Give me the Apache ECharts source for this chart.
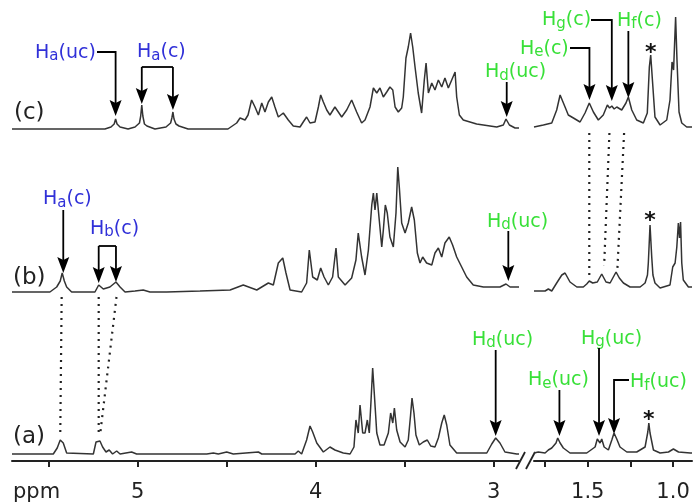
<!DOCTYPE html>
<html>
<head>
<meta charset="utf-8">
<script src="https://cdn.jsdelivr.net/npm/echarts@6/dist/echarts.min.js"></script>
<style>
  html, body { margin: 0; padding: 0; background: #fff; }
  #chart { width: 694px; height: 504px; }
</style>
</head>
<body>
<div id="chart"></div>
<script>
// 축 눈금 (ppm)
var leftTicks = [5.5, 5, 4.5, 4, 3.5, 3];
var leftLabels = [5, 4, 3];
var rightTicks = [1.75, 1.5, 1.25, 1.0];
var rightLabels = [1.5, 1.0];

// 스펙트럼 (c) : [ppm, intensity]
var cLeft = [[5.706,0],[5.184,0],[5.150,2],[5.132,5],[5.124,10],[5.116,5],[5.099,2],[5.054,0],[5.015,2],[4.990,6],[4.983,13],[4.977,24],[4.971,13],[4.962,5],[4.948,3],[4.903,0],[4.841,2],[4.815,6],[4.808,11],[4.802,17],[4.796,10],[4.785,5],[4.768,3],[4.717,0],[4.493,0],
  [4.444,6],[4.425,11],[4.397,9],[4.380,14],[4.360,29],[4.341,22],[4.322,14],[4.303,26],[4.285,17],[4.266,27],[4.247,32],[4.229,22],[4.210,12],[4.182,16],[4.154,9],[4.126,3],[4.088,2],[4.070,7],[4.051,12],[4.032,6],[4.004,7],
  [3.985,22],[3.972,34],[3.957,27],[3.938,19],[3.920,14],[3.892,22],[3.873,17],[3.854,12],[3.826,19],[3.798,29],[3.770,17],[3.742,6],[3.723,9],[3.695,22],[3.676,41],[3.657,36],[3.639,41],[3.620,32],[3.601,37],[3.583,42],[3.567,39],[3.554,22],[3.536,17],[3.517,21],[3.508,32],
  [3.493,71],[3.480,82],[3.467,96],[3.455,82],[3.442,62],[3.424,36],[3.405,16],[3.390,49],[3.380,66],[3.367,36],[3.348,46],[3.330,39],[3.311,49],[3.292,42],[3.274,51],[3.255,41],[3.236,49],[3.217,57],[3.208,32],[3.193,14],[3.171,9],[3.096,5],[2.983,2],[2.946,4],[2.931,10],[2.912,4],[2.880,1],[2.858,1]];
var cRight = [[1.815,0],[1.760,2],[1.711,4],[1.682,17],[1.662,32],[1.652,30],[1.633,20],[1.614,12],[1.584,9],[1.545,5],[1.516,14],[1.491,24],[1.467,15],[1.438,7],[1.409,12],[1.385,22],[1.372,19],[1.359,21],[1.345,18],[1.330,20],[1.301,17],[1.276,24],[1.262,30],[1.242,17],[1.213,7],[1.174,4],
  [1.151,14],[1.139,60],[1.131,72],[1.121,47],[1.106,10],[1.076,2],[1.037,7],[1.018,27],[1.006,65],[0.997,57],[0.985,110],[0.977,67],[0.965,15],[0.949,4],[0.920,0],[0.889,0]];

// 스펙트럼 (b)
var bLeft = [[5.706,0],[5.493,0],[5.455,5],[5.435,11],[5.424,19],[5.412,11],[5.399,5],[5.371,0],[5.240,0],[5.219,7],[5.193,3],[5.156,5],[5.122,10],[5.099,5],[5.071,0],[5.015,1],[4.969,2],[4.931,0],[4.837,0],[4.650,1],[4.481,2],[4.407,7],[4.331,2],[4.266,9],[4.238,7],[4.210,29],[4.185,34],[4.167,19],[4.144,2],[4.079,0],
  [4.051,9],[4.036,42],[4.017,15],[3.991,12],[3.972,24],[3.953,15],[3.929,7],[3.905,15],[3.886,44],[3.873,15],[3.835,7],[3.798,14],[3.774,32],[3.761,59],[3.742,35],[3.723,17],[3.704,42],[3.685,87],[3.676,99],[3.667,82],[3.657,99],[3.643,72],[3.629,45],[3.620,62],[3.609,87],[3.598,79],[3.583,55],[3.564,45],
  [3.549,79],[3.539,125],[3.530,104],[3.517,69],[3.498,59],[3.480,69],[3.461,85],[3.446,72],[3.429,39],[3.414,29],[3.399,35],[3.377,29],[3.348,27],[3.330,39],[3.311,44],[3.292,35],[3.274,49],[3.250,55],[3.231,47],[3.208,35],[3.180,25],[3.152,15],[3.115,7],[3.058,5],[2.965,5],[2.931,8],[2.908,5],[2.858,5]];
var bRight = [[1.815,0],[1.750,0],[1.731,2],[1.711,0],[1.682,8],[1.652,16],[1.633,18],[1.623,16],[1.604,9],[1.564,4],[1.526,4],[1.506,7],[1.491,10],[1.471,8],[1.444,9],[1.418,17],[1.393,9],[1.369,8],[1.350,14],[1.334,19],[1.315,13],[1.291,8],[1.252,4],[1.193,4],
  [1.164,8],[1.150,16],[1.145,28],[1.135,66],[1.125,34],[1.118,16],[1.106,8],[1.076,3],[1.018,6],[1.002,24],[0.988,28],[0.978,44],[0.969,68],[0.962,53],[0.956,69],[0.949,28],[0.940,11],[0.910,4],[0.889,4]];

// 스펙트럼 (a)
var aLeft = [[5.706,0],[5.474,0],[5.452,6],[5.435,14],[5.418,11],[5.399,1],[5.249,0],[5.234,12],[5.212,13],[5.197,7],[5.178,2],[5.160,4],[5.141,0],[5.118,3],[5.099,0],[5.034,2],[5.006,0],[4.612,0],[4.575,1],[4.547,0],[4.500,2],[4.463,0],[4.322,2],[4.303,0],[4.116,0],[4.098,3],[4.079,0],
  [4.051,14],[4.032,28],[4.017,22],[3.994,11],[3.957,2],[3.920,7],[3.892,4],[3.845,1],[3.807,0],[3.785,7],[3.774,34],[3.761,21],[3.751,49],[3.736,21],[3.723,21],[3.710,34],[3.699,21],[3.689,54],[3.680,86],[3.671,61],[3.657,21],[3.639,9],[3.616,9],[3.592,21],[3.579,41],[3.567,31],[3.558,46],[3.545,24],[3.526,12],
  [3.498,7],[3.480,14],[3.467,39],[3.459,56],[3.448,41],[3.437,19],[3.418,9],[3.396,12],[3.373,14],[3.354,8],[3.330,7],[3.311,16],[3.292,31],[3.278,39],[3.264,29],[3.246,9],[3.208,1],[3.039,1],[3.011,10],[2.989,16],[2.965,11],[2.937,2],[2.871,0],[2.858,0]];
var aRight = [[1.815,0],[1.790,1],[1.750,0],[1.731,3],[1.711,5],[1.686,10],[1.676,15],[1.662,10],[1.643,5],[1.604,0],[1.506,0],[1.457,6],[1.444,14],[1.428,10],[1.418,14],[1.404,6],[1.379,3],[1.359,13],[1.346,20],[1.330,14],[1.311,6],[1.271,1],[1.213,1],[1.164,6],[1.148,21],[1.142,30],[1.135,20],[1.115,3],[1.076,0],[1.027,1],[0.998,4],[0.968,1],[0.899,0],[0.889,0]];

// 스펙트럼 세로 오프셋 (a, b, c)
var offsetLeft = [7, 169, 332];
var offsetRight = [8, 170, 334];

var FONT = 'DejaVu Sans';
var BLUE = '#3030d8';
var GREEN = '#38e038';
var INK = '#333';

function shift (arr, off) {
  return arr.map(function (d) { return [d[0], d[1] + off]; });
}

function lineSeries (name, data, g) {
  return {
    name: name, type: 'line', xAxisIndex: g, yAxisIndex: g,
    data: data, showSymbol: false, silent: true,
    lineStyle: { color: INK, width: 1.5 }
  };
}

function xAxisOf (g, min, max, ticks, labels, fmt) {
  return {
    type: 'value', gridIndex: g, inverse: true, min: min, max: max,
    axisLine: { lineStyle: { color: '#222', width: 2 } },
    axisTick: { length: 6, customValues: ticks, lineStyle: { color: '#222', width: 2 } },
    axisLabel: { customValues: labels, fontSize: 21, color: '#222', margin: 21, fontFamily: FONT, formatter: fmt },
    splitLine: { show: false }
  };
}

var myChart = echarts.init(document.getElementById('chart'));
var option = {
  animation: false,
  textStyle: { fontFamily: FONT },
  grid: [
    { left: 12, width: 507, top: 0, bottom: 43 },
    { left: 534, width: 158, top: 0, bottom: 43 }
  ],
  xAxis: [
    xAxisOf(0, 2.858, 5.706, leftTicks, leftLabels, function (v) { return String(v); }),
    xAxisOf(1, 0.889, 1.815, rightTicks, rightLabels, function (v) { return v.toFixed(1); })
  ],
  yAxis: [
    { type: 'value', gridIndex: 0, min: 0, max: 461, show: false },
    { type: 'value', gridIndex: 1, min: 0, max: 461, show: false }
  ],
  series: [
    lineSeries('a', shift(aLeft, offsetLeft[0]), 0),
    lineSeries('b', shift(bLeft, offsetLeft[1]), 0),
    lineSeries('c', shift(cLeft, offsetLeft[2]), 0),
    lineSeries('a', shift(aRight, offsetRight[0]), 1),
    lineSeries('b', shift(bRight, offsetRight[1]), 1),
    lineSeries('c', shift(cRight, offsetRight[2]), 1)
  ]
};
myChart.setOption(option);

// 주석: 라벨 위치(px), 화살표 위치(ppm)
var notes = [
  { s: 'a', r: '(uc)', c: BLUE, x: 35, y: 53, g: 0, at: [5.124], top: 52, tip: [116], barFrom: 97 },
  { s: 'a', r: '(c)', c: BLUE, x: 137, y: 52.5, g: 0, at: [4.977, 4.802], top: 67, tip: [104, 110], pair: true },
  { s: 'd', r: '(uc)', c: GREEN, x: 485, y: 72.5, g: 0, at: [2.927], top: 82, tip: [117] },
  { s: 'e', r: '(c)', c: GREEN, x: 520, y: 49, g: 1, at: [1.49], top: 48, tip: [100], barFrom: 570 },
  { s: 'g', r: '(c)', c: GREEN, x: 542, y: 20.5, g: 1, at: [1.359], top: 20, tip: [101], barFrom: 591 },
  { s: 'f', r: '(c)', c: GREEN, x: 617, y: 21, g: 1, at: [1.262], top: 31, tip: [98] },
  { s: 'a', r: '(c)', c: BLUE, x: 43, y: 199.5, g: 0, at: [5.418], top: 210, tip: [273] },
  { s: 'b', r: '(c)', c: BLUE, x: 90, y: 229, g: 0, at: [5.219, 5.122], top: 246, tip: [283, 282], pair: true },
  { s: 'd', r: '(uc)', c: GREEN, x: 487, y: 221.7, g: 0, at: [2.918], top: 231, tip: [281] },
  { s: 'd', r: '(uc)', c: GREEN, x: 472, y: 340, g: 0, at: [2.989], top: 350, tip: [436] },
  { s: 'e', r: '(uc)', c: GREEN, x: 528, y: 380.3, g: 1, at: [1.666], top: 390, tip: [436] },
  { s: 'g', r: '(uc)', c: GREEN, x: 581, y: 339, g: 1, at: [1.434], top: 348, tip: [436] },
  { s: 'f', r: '(uc)', c: GREEN, x: 630, y: 382.5, g: 1, at: [1.346], top: 380, tip: [434], barFrom: 629 }
];
var stars = [[1.131, 48], [1.135, 216.7], [1.142, 415.5]];
var guides = [
  { g: 1, from: 1.491, to: 1.491, y0: 133, y1: 276 },
  { g: 1, from: 1.373, to: 1.404, y0: 133, y1: 266 },
  { g: 1, from: 1.287, to: 1.326, y0: 133, y1: 268 },
  { g: 0, from: 5.427, to: 5.435, y0: 297, y1: 436 },
  { g: 0, from: 5.219, to: 5.219, y0: 297, y1: 436 },
  { g: 0, from: 5.119, to: 5.212, y0: 297, y1: 436 }
];
var panels = [['(c)', 14, 113], ['(b)', 13, 278.5], ['(a)', 13, 437]];

function px (g, ppm) { return myChart.convertToPixel({ xAxisIndex: g }, ppm); }

var gfx = [];
notes.forEach(function (n) {
  gfx.push({
    type: 'text', x: n.x, y: n.y, silent: true,
    style: {
      text: '{h|H}{s|' + n.s + '}{h|' + n.r + '}',
      align: 'left', verticalAlign: 'middle', fill: n.c,
      rich: {
        h: { fontSize: 19, fontFamily: FONT, fill: n.c, lineHeight: 22 },
        s: { fontSize: 15, fontFamily: FONT, fill: n.c, lineHeight: 16, verticalAlign: 'bottom' }
      }
    }
  });
  var xs = n.at.map(function (p) { return px(n.g, p); });
  if (n.pair) {
    gfx.push({ type: 'polyline', silent: true, shape: { points: [[xs[0], n.top], [xs[1], n.top]] }, style: { stroke: '#000', lineWidth: 1.8, fill: null } });
  }
  xs.forEach(function (x, i) {
    var pts = [];
    if (n.barFrom !== undefined) pts.push([n.barFrom, n.top]);
    pts.push([x, n.top], [x, n.tip[i] - 10]);
    gfx.push({ type: 'polyline', silent: true, shape: { points: pts }, style: { stroke: '#000', lineWidth: 1.8, fill: null } });
    var t = n.tip[i];
    gfx.push({ type: 'polygon', silent: true, shape: { points: [[x, t], [x - 6, t - 16], [x, t - 13], [x + 6, t - 16]] }, style: { fill: '#000' } });
  });
});
stars.forEach(function (s) {
  gfx.push({ type: 'text', silent: true, x: px(1, s[0]), y: s[1] + 5, style: { text: '*', fontSize: 22, fontWeight: 'bold', fontFamily: FONT, fill: '#111', align: 'center', verticalAlign: 'middle' } });
});
guides.forEach(function (d) {
  gfx.push({ type: 'line', silent: true, shape: { x1: px(d.g, d.from), y1: d.y0, x2: px(d.g, d.to), y2: d.y1 }, style: { stroke: '#222', lineWidth: 2.2, lineDash: [2, 5] } });
});
panels.forEach(function (p) {
  gfx.push({ type: 'text', silent: true, x: p[1], y: p[2], style: { text: p[0], fontSize: 23, fontFamily: FONT, fill: '#222', align: 'left', verticalAlign: 'middle' } });
});
// ppm 라벨
gfx.push({ type: 'text', silent: true, x: 13, y: 493, style: { text: 'ppm', fontSize: 21, fontFamily: FONT, fill: '#222', align: 'left', verticalAlign: 'middle' } });
// 축 끊김 표시
gfx.push({ type: 'line', silent: true, shape: { x1: 516, y1: 469, x2: 525, y2: 452 }, style: { stroke: '#222', lineWidth: 1.8 } });
gfx.push({ type: 'line', silent: true, shape: { x1: 526, y1: 469, x2: 535, y2: 452 }, style: { stroke: '#222', lineWidth: 1.8 } });

myChart.setOption({ graphic: gfx });
</script>
</body>
</html>
